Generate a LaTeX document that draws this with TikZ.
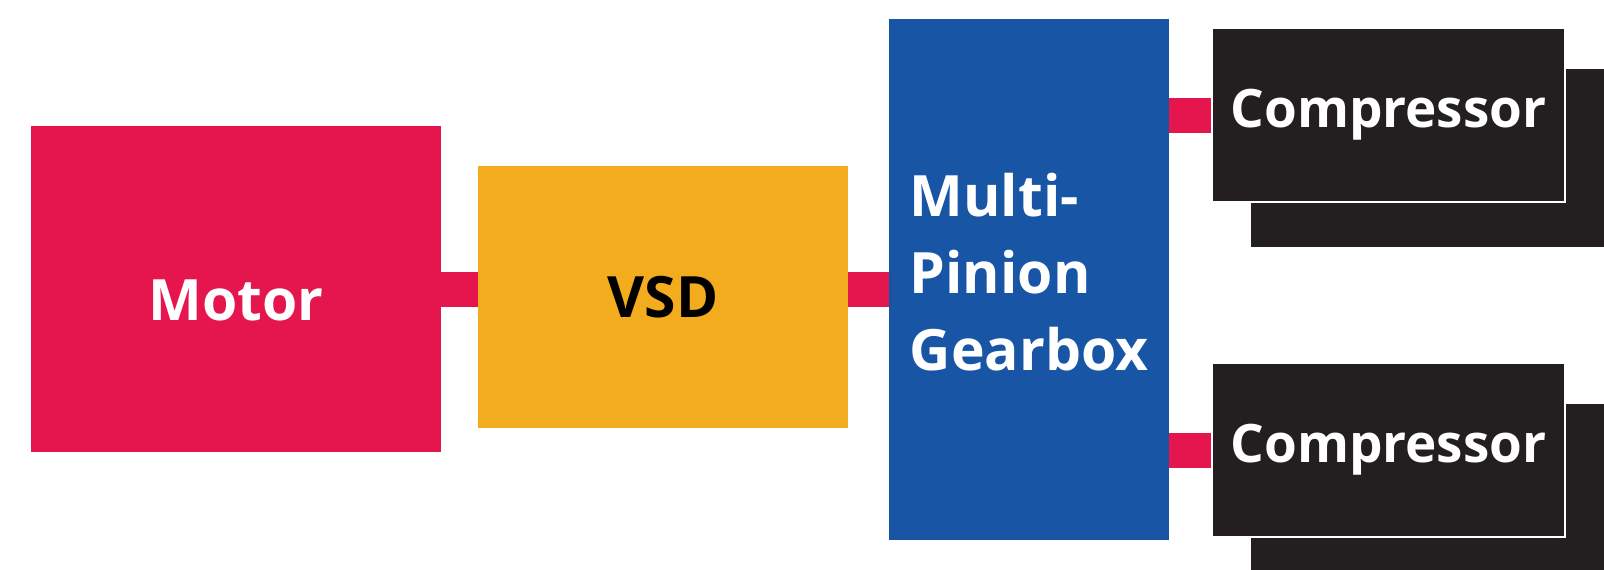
\documentclass[tikz,border=0pt]{standalone}
\usepackage{fontspec}
\setmainfont{Open Sans}
\usetikzlibrary{positioning}
\definecolor{motorred}{HTML}{E5154D}
\definecolor{vsdorange}{HTML}{F2AC1D}
\definecolor{gearblue}{HTML}{1856A5}
\definecolor{compblack}{HTML}{231F20}
\begin{document}
\begin{tikzpicture}[
  box/.style={inner sep=0pt,font=\fontsize{28.5pt}{38.5pt}\selectfont\bfseries},
  comp/.style={box,fill=compblack,text=white,minimum width=176.5pt,minimum height=87pt,
  font=\fontsize{26.5pt}{32pt}\selectfont\bfseries},
  link/.style={draw=motorred,line width=17.5pt}]
\clip (0,0) rectangle (802pt,-284.5pt);
\fill[white] (0,0) rectangle (802pt,-284.5pt);
\node[box,fill=motorred,text=white,minimum width=205pt,minimum height=163pt,
  text height=32pt] (motor) at (118pt,-144.5pt) {Motor};
\node[box,fill=vsdorange,minimum width=185pt,minimum height=131pt] (vsd) at (331.5pt,-148.5pt) {VSD};
\node[box,fill=gearblue,text=white,align=left,minimum width=140pt,minimum height=260.5pt,
  text depth=8pt] (gear) at (514.5pt,-139.75pt) {Multi-\\Pinion\\Gearbox};
% compressors, the back one first
\node[comp,minimum height=89pt] (back1) at (713.75pt,-79pt) {};
\node[comp,minimum height=89pt] (back2) at (713.75pt,-246.5pt) {};
\node[comp,draw=white,line width=1pt] (comp1) at (694.25pt,-57.5pt) {Compressor};
\node[comp,draw=white,line width=1pt] (comp2) at (694.25pt,-225pt) {Compressor};
\draw[link] (motor.east) -- (motor.east -| vsd.west);
\draw[link] (vsd.east |- motor.east) -- (gear.west |- motor.east);
\foreach \c in {comp1,comp2} \draw[link] (gear.east |- \c.west) -- (\c.west);
\end{tikzpicture}
\end{document}
